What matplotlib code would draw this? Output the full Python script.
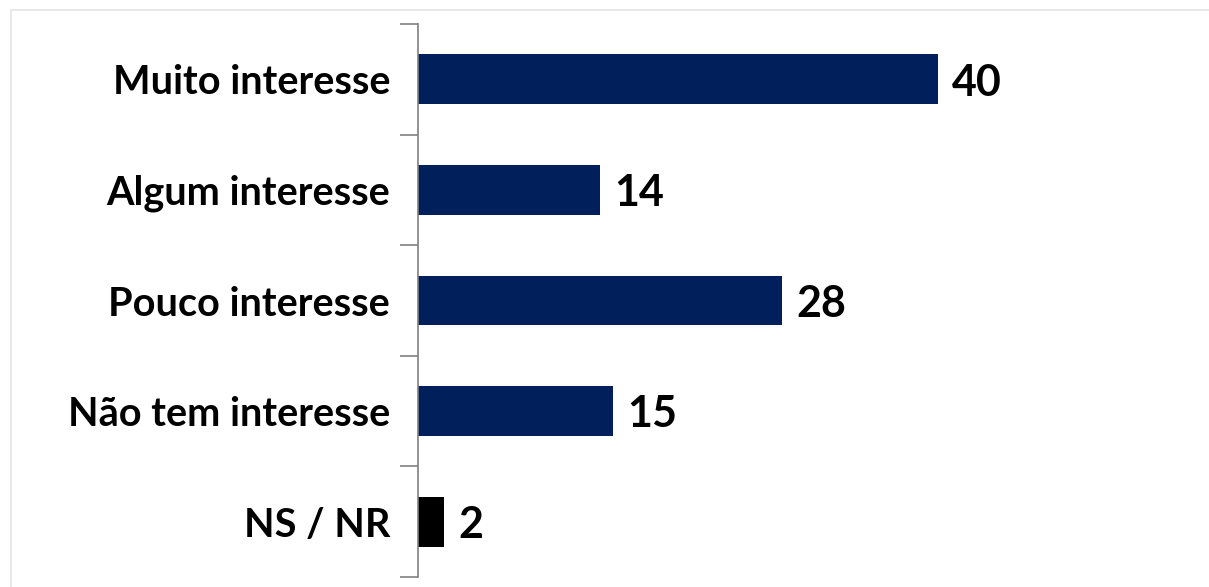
import matplotlib
matplotlib.use("Agg")
import matplotlib.pyplot as plt
from matplotlib.patches import Rectangle

# data
categories = ["Muito interesse", "Algum interesse", "Pouco interesse", "Não tem interesse", "NS / NR"]
values = [40, 14, 28, 15, 2]
colors = ["#001f5b", "#001f5b", "#001f5b", "#001f5b", "#000000"]

plt.rcParams['font.family'] = ['Lato', 'DejaVu Sans']

fig = plt.figure(figsize=(12.09, 5.87), dpi=100)
# light frame like the original slide object
fig.patches.append(Rectangle((11/1209, -0.1), 1.2, (587-10)/587 + 0.1,
                             transform=fig.transFigure, fill=False,
                             edgecolor="#e4e4e4", linewidth=1.2))

ax = fig.add_axes([418/1209, 10/587, 780/1209, 553/587])
y = list(range(len(categories)))
ax.barh(y, values, height=0.45, color=colors)
ax.set_xlim(0, 60)
ax.set_ylim(len(categories) - 0.5, -0.5)

for yi, v in zip(y, values):
    ax.text(v + 1.1, yi + 0.03, str(v), va="center", ha="left",
            fontsize=31, fontweight="bold", color="black")

ax.set_yticks(y)
ax.set_yticklabels(categories, fontsize=28.5, fontweight="bold")
ax.tick_params(axis="y", length=0, pad=20)
ax.set_yticks([i - 0.5 for i in range(len(categories) + 1)], minor=True)
ax.tick_params(axis="y", which="minor", length=13, width=1.2, color="#808080")
ax.set_xticks([])
for s in ["top", "right", "bottom"]:
    ax.spines[s].set_visible(False)
ax.spines["left"].set_color("#808080")
ax.spines["left"].set_linewidth(1.2)

fig.savefig("out.png", dpi=100)
